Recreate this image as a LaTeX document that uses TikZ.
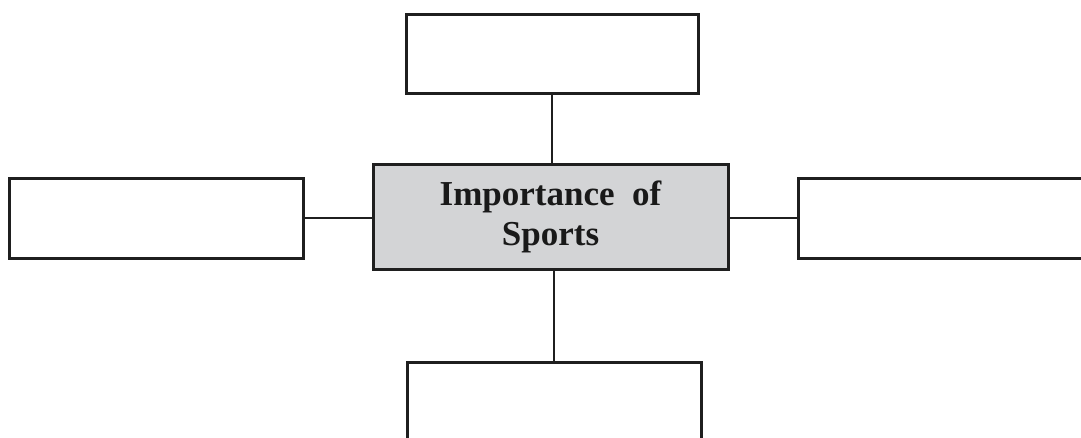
\documentclass[tikz,border=0pt]{standalone}
\usepackage{fontspec}
\setmainfont{Liberation Serif}
\definecolor{boxgray}{RGB}{211,212,214}
\begin{document}
\begin{tikzpicture}[x=1pt,y=-1pt,
  blank/.style={draw=black!88, line width=3pt, fill=white, inner sep=0pt},
  hub/.style={draw=black!88, line width=3pt, fill=boxgray, inner sep=0pt,
    align=center, font=\fontsize{35}{40}\selectfont\bfseries, text=black!90},
  link/.style={draw=black!88, line width=2.4pt}]
\useasboundingbox (0,0) rectangle (1081,437);
\clip (0,0) rectangle (1081,437);

% central topic box
\node[hub, minimum width=355pt, minimum height=105pt] (hub) at (550.5,216.5)
  {Importance~ of\\Sports};
% empty answer boxes around it
\node[blank, minimum width=292pt, minimum height=79pt] (top) at (552,53.5) {};
\node[blank, minimum width=294pt, minimum height=80pt] (left) at (156,218) {};
\node[blank, minimum width=297pt, minimum height=80pt] (right) at (946.5,218) {};
\node[blank, minimum width=294pt, minimum height=80pt] (bottom) at (554,402) {};

% connectors from the centre to each box
\draw[link] (top.south) -- (top.south |- hub.north);
\draw[link] (bottom.north |- hub.south) -- (bottom.north);
\draw[link] (left.east) -- (left.east -| hub.west);
\draw[link] (hub.east |- right.west) -- (right.west);
\end{tikzpicture}
\end{document}
